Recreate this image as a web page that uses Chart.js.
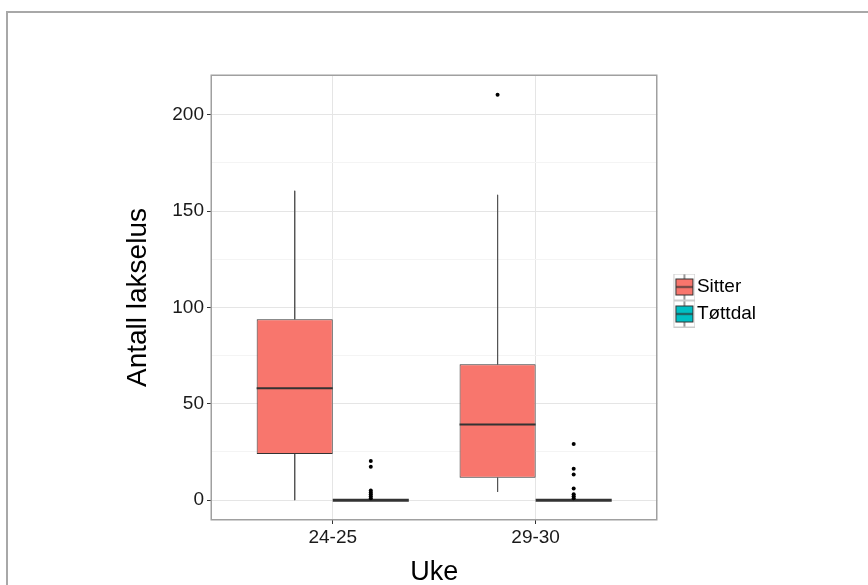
<!DOCTYPE html>
<html><head><meta charset="utf-8">
<script src="https://cdn.jsdelivr.net/npm/chart.js@4.4.1/dist/chart.umd.min.js"></script>
<style>
html,body{margin:0;padding:0;background:#fff;}
#wrap{position:relative;width:868px;height:585px;overflow:hidden;background:#fff;}
#frame{position:absolute;left:6px;top:11px;width:900px;height:600px;border-left:2px solid #a8a8a8;border-top:2px solid #a8a8a8;}
canvas{position:absolute;left:0;top:0;}
</style></head><body>
<div id="wrap"><div id="frame"></div><canvas id="c" width="868" height="585"></canvas></div>
<script>
// ---- data ----
const categories = ['24-25', '29-30'];
const groups = ['Sitter', 'Tøttdal'];
const sitterLower = [0, 4.3];
const sitterQ1 = [23.9, 11.6];
const sitterMedian = [58.0, 39.3];
const sitterQ3 = [93.9, 70.5];
const sitterUpper = [160.5, 158.4];
const sitterOutliers = [[], [210.4]];
const tottdalLower = [0, 0];
const tottdalQ1 = [0, 0];
const tottdalMedian = [0, 0];
const tottdalQ3 = [0, 0];
const tottdalUpper = [0, 0];
const tottdalOutliers = [[20.3, 17.3, 5, 4, 3, 2, 1], [29.1, 16.3, 13.3, 6.1, 3.1, 2, 1]];
const yTickLabels = [0, 50, 100, 150, 200];

// ---- layout / style ----
const DODGE = [-0.1875, 0.1875];
const HALFW = 0.1875;
const fills = ['#F8766D', '#00BFC4'];
const FONT = "'Liberation Sans', Arial, sans-serif";

function xPos(i, g) { return i + 1 + DODGE[g]; }
function boxData(q1, q3) { return categories.map((c, i) => ({x: i + 1, y: [q1[i], q3[i]]})); }
function whiskerData(g, lower, q1, q3, upper) {
  const d = [];
  categories.forEach((c, i) => {
    const x = xPos(i, g);
    d.push({x, y: upper[i]}, {x, y: q3[i]}, {x, y: null}, {x, y: q1[i]}, {x, y: lower[i]}, {x, y: null});
  });
  return d;
}
function medianData(g, med) {
  const d = [];
  categories.forEach((c, i) => {
    const x = xPos(i, g);
    d.push({x: x - HALFW, y: med[i]}, {x: x + HALFW, y: med[i]}, {x, y: null});
  });
  return d;
}
function outlierData(g, outs) {
  const d = [];
  outs.forEach((arr, i) => arr.forEach(v => d.push({x: xPos(i, g), y: v})));
  return d;
}
function keyCanvas(fill) {
  const c = document.createElement('canvas');
  c.width = 38; c.height = 27;
  const g = c.getContext('2d');
  const ox = 16;
  g.fillStyle = '#fff'; g.fillRect(ox, 0, 22, 27);
  g.strokeStyle = '#cccccc'; g.lineWidth = 1; g.strokeRect(ox + 0.5, 0.5, 21, 26);
  g.strokeStyle = '#333'; g.beginPath(); g.moveTo(ox + 11, 1); g.lineTo(ox + 11, 5.5); g.moveTo(ox + 11, 21.5); g.lineTo(ox + 11, 26); g.stroke();
  g.fillStyle = fill; g.fillRect(ox + 2.5, 5.5, 17, 16);
  g.strokeRect(ox + 2.5, 5.5, 17, 16);
  g.lineWidth = 1.5; g.beginPath(); g.moveTo(ox + 2.5, 13.5); g.lineTo(ox + 19.5, 13.5); g.stroke();
  return c;
}

const panelBorder = {
  id: 'panelBorder',
  afterDatasetsDraw(chart) {
    const {ctx, chartArea: a} = chart;
    ctx.save();
    ctx.strokeStyle = '#a0a0a0'; ctx.lineWidth = 1.5;
    ctx.strokeRect(Math.round(a.left) + 0.25, Math.round(a.top) + 0.25, Math.round(a.right - a.left) - 0.5, Math.round(a.bottom - a.top) - 0.5);
    ctx.restore();
  }
};

const lineBase = {type: 'line', pointRadius: 0, pointHoverRadius: 0, fill: false, tension: 0, spanGaps: false};

new Chart(document.getElementById('c'), {
  type: 'bar',
  data: {
    datasets: [
      {label: groups[0], data: boxData(sitterQ1, sitterQ3), backgroundColor: fills[0], borderColor: '#333', borderWidth: 1, borderSkipped: false, barPercentage: 1, categoryPercentage: 0.75, order: 2},
      {label: groups[1], data: boxData(tottdalQ1, tottdalQ3), backgroundColor: fills[1], borderColor: '#333', borderWidth: 1, borderSkipped: false, barPercentage: 1, categoryPercentage: 0.75, order: 2},
      Object.assign({}, lineBase, {label: 'w1', data: whiskerData(0, sitterLower, sitterQ1, sitterQ3, sitterUpper), borderColor: '#555', borderWidth: 1, order: 3}),
      Object.assign({}, lineBase, {label: 'w2', data: whiskerData(1, tottdalLower, tottdalQ1, tottdalQ3, tottdalUpper), borderColor: '#555', borderWidth: 1, order: 3}),
      Object.assign({}, lineBase, {label: 'm1', data: medianData(0, sitterMedian), borderColor: '#333', borderWidth: 2, order: 1}),
      Object.assign({}, lineBase, {label: 'm2', data: medianData(1, tottdalMedian), borderColor: '#333', borderWidth: 3, order: 1}),
      {type: 'scatter', label: 'o1', data: outlierData(0, sitterOutliers), pointRadius: 2, pointBorderWidth: 0, backgroundColor: '#000', borderColor: '#000', order: 0},
      {type: 'scatter', label: 'o2', data: outlierData(1, tottdalOutliers), pointRadius: 2, pointBorderWidth: 0, backgroundColor: '#000', borderColor: '#000', order: 0}
    ]
  },
  options: {
    responsive: false,
    animation: false,
    events: [],
    layout: {padding: {left: 0, top: 75, right: 102, bottom: 0}},
    plugins: {
      tooltip: {enabled: false},
      legend: {
        display: true,
        position: 'right',
        align: 'center',
        fullSize: false,
        title: {display: true, text: ' ', font: {size: 2, lineHeight: 1}, padding: 2},
        labels: {
          usePointStyle: true,
          pointStyleWidth: 22,
          padding: 8,
          color: '#000',
          font: {family: FONT, size: 19},
          generateLabels: () => groups.map((g, i) => ({
            text: g, pointStyle: keyCanvas(fills[i]), fillStyle: fills[i],
            strokeStyle: '#333', lineWidth: 0, hidden: false, datasetIndex: i, fontColor: '#000'
          }))
        }
      }
    },
    scales: {
      x: {
        type: 'linear', min: 0.4, max: 2.6, offset: false,
        afterFit: s => { s.height = 65; },
        border: {display: false},
        grid: {offset: false, color: '#e5e5e5', lineWidth: 1, tickColor: '#333', tickLength: 4, drawTicks: true},
        ticks: {stepSize: 1, includeBounds: false, maxRotation: 0, padding: 2, color: '#1a1a1a',
          font: {family: FONT, size: 19},
          callback: v => categories[Math.round(v) - 1] || ''},
        title: {display: true, text: 'Uke', color: '#000', font: {family: FONT, size: 27, lineHeight: 0.9}, padding: 0}
      },
      y: {
        type: 'linear', min: -10.3, max: 220.6,
        afterFit: s => { s.width = 211; },
        border: {display: false},
        grid: {
          color: c => (yTickLabels.includes(c.tick && c.tick.value) ? '#e5e5e5' : '#f4f4f4'),
          tickColor: c => (yTickLabels.includes(c.tick && c.tick.value) ? '#333' : 'rgba(0,0,0,0)'),
          lineWidth: 1, tickLength: 4
        },
        ticks: {stepSize: 25, includeBounds: false, padding: 3, color: '#1a1a1a',
          font: {family: FONT, size: 19},
          callback: v => (yTickLabels.includes(v) ? String(v) : '')},
        title: {display: true, text: 'Antall lakselus', color: '#000', font: {family: FONT, size: 28, lineHeight: 1.2}, padding: {top: 121, bottom: 0}}
      }
    }
  },
  plugins: [panelBorder]
});
</script>
</body></html>
